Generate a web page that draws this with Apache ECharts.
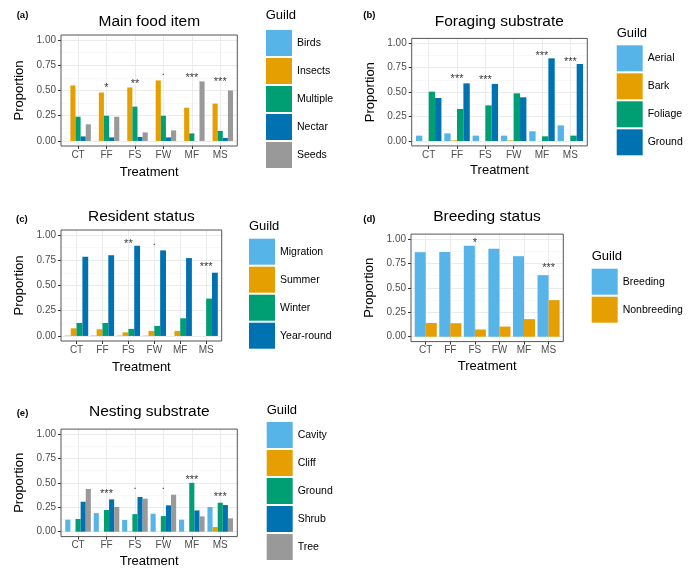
<!DOCTYPE html>
<html><head><meta charset="utf-8">
<script src="https://cdn.jsdelivr.net/npm/echarts@6/dist/echarts.min.js"></script>
<style>html,body{margin:0;padding:0;background:#fff}#c{width:696px;height:569px}</style>
</head><body><div id="c"></div>
<script>
// ---------- data ----------
const treatments = ['CT','FF','FS','FW','MF','MS'];
const yTicks = [0, 0.25, 0.5, 0.75, 1];
const yMinorTicks = [0.125, 0.375, 0.625, 0.875];

// (a) Main food item
const foodGuilds   = ['Birds','Insects','Multiple','Nectar','Seeds'];
const foodBirds    = [0, 0, 0, 0, 0, 0];
const foodInsects  = [0.55, 0.48, 0.53, 0.60, 0.33, 0.37];
const foodMultiple = [0.24, 0.25, 0.34, 0.25, 0.075, 0.10];
const foodNectar   = [0.045, 0.035, 0.04, 0.035, 0, 0.03];
const foodSeeds    = [0.165, 0.24, 0.085, 0.105, 0.59, 0.50];
const foodSig      = ['', '*', '**', '.', '***', '***'];
const foodSigY     = [null, 0.545, 0.584, 0.653, 0.644, 0.604];

// (b) Foraging substrate
const foragGuilds  = ['Aerial','Bark','Foliage','Ground'];
const foragAerial  = [0.055, 0.078, 0.055, 0.055, 0.10, 0.16];
const foragBark    = [0, 0.006, 0, 0.006, 0, 0];
const foragFoliage = [0.505, 0.328, 0.365, 0.488, 0.048, 0.055];
const foragGround  = [0.44, 0.59, 0.584, 0.447, 0.846, 0.788];
const foragSig     = ['', '***', '***', '', '***', '***'];
const foragSigY    = [null, 0.658, 0.652, null, 0.898, 0.829];

// (c) Resident status
const resGuilds    = ['Migration','Summer','Winter','Year-round'];
const resMigration = [0.004, 0.004, 0.004, 0.003, 0, 0];
const resSummer    = [0.076, 0.066, 0.036, 0.05, 0.05, 0];
const resWinter    = [0.129, 0.129, 0.07, 0.10, 0.175, 0.37];
const resYearRound = [0.785, 0.80, 0.894, 0.848, 0.772, 0.627];
const resSig       = ['', '', '**', '.', '', '***'];
const resSigY      = [null, null, 0.934, 0.90, null, 0.703];

// (d) Breeding status
const breedGuilds  = ['Breeding','Nonbreeding'];
const breedYes     = [0.865, 0.868, 0.93, 0.90, 0.824, 0.63];
const breedNo      = [0.14, 0.138, 0.074, 0.104, 0.18, 0.374];
const breedSig     = ['', '', '*', '', '', '***'];
const breedSigY    = [null, null, 0.983, null, null, 0.727];

// (e) Nesting substrate
const nestGuilds   = ['Cavity','Cliff','Ground','Shrub','Tree'];
const nestCavity   = [0.123, 0.19, 0.12, 0.184, 0.123, 0.253];
const nestCliff    = [0, 0, 0.005, 0, 0, 0.048];
const nestGround   = [0.13, 0.222, 0.18, 0.16, 0.50, 0.297];
const nestShrub    = [0.307, 0.331, 0.355, 0.27, 0.218, 0.273];
const nestTree     = [0.437, 0.253, 0.338, 0.379, 0.157, 0.137];
const nestSig      = ['', '***', '.', '.', '***', '***'];
const nestSigY     = [null, 0.409, 0.437, 0.437, 0.557, 0.383];

// ---------- styling / layout ----------
const palette = ['#56B4E9','#E69F00','#009E73','#0072B2','#999999'];
const FONT = 'Liberation Sans, Arial, Helvetica, sans-serif';

const panels = [
  {id:'a', title:'Main food item', guilds:foodGuilds,
   values:[foodBirds, foodInsects, foodMultiple, foodNectar, foodSeeds],
   sig:foodSig, sigY:foodSigY,
   frame:[61,35,176.3,111], titlePos:[149.3,22], tagPos:[16.7,15],
   guildPos:[265.7,15.7], legendPos:[266,30], xNameGap:19.5},
  {id:'b', title:'Foraging substrate', guilds:foragGuilds,
   values:[foragAerial, foragBark, foragFoliage, foragGround],
   sig:foragSig, sigY:foragSigY,
   frame:[411.7,38.4,175.6,107.5], titlePos:[499.3,21.7], tagPos:[363.3,15],
   guildPos:[616.7,33.3], legendPos:[616.7,45.3], xNameGap:18.5},
  {id:'c', title:'Resident status', guilds:resGuilds,
   values:[resMigration, resSummer, resWinter, resYearRound],
   sig:resSig, sigY:resSigY,
   frame:[61,230,160.7,111], titlePos:[141.4,216.7], tagPos:[16,219],
   guildPos:[249,226.7], legendPos:[249,238.7], xNameGap:19.5},
  {id:'d', title:'Breeding status', guilds:breedGuilds,
   values:[breedYes, breedNo],
   sig:breedSig, sigY:breedSigY,
   frame:[411,234.1,152.3,107.5], titlePos:[487,216.7], tagPos:[363.3,219],
   guildPos:[591.7,256.7], legendPos:[591.7,268.7], xNameGap:18},
  {id:'e', title:'Nesting substrate', guilds:nestGuilds,
   values:[nestCavity, nestCliff, nestGround, nestShrub, nestTree],
   sig:nestSig, sigY:nestSigY,
   frame:[61,429.1,176.3,107.5], titlePos:[149.3,411.7], tagPos:[16.7,413.3],
   guildPos:[266.7,410], legendPos:[266.7,422], xNameGap:18}
];

const option = {
  animation:false,
  textStyle:{fontFamily:FONT},
  grid:[], xAxis:[], yAxis:[], series:[], legend:[], graphic:[]
};

function addPanel(p){
  const gi = option.grid.length, xa = option.xAxis.length, ya = option.yAxis.length;
  const [fx, fy, fw, fh] = p.frame;
  const inset = fw * 0.1 / 6.2;
  option.grid.push({left:fx, top:fy, width:fw, height:fh, show:true,
    borderColor:'#555', borderWidth:1, backgroundColor:'rgba(0,0,0,0)', z:3});
  option.grid.push({left:fx+inset, top:fy, width:fw-2*inset, height:fh});
  option.xAxis.push({gridIndex:gi, type:'value', min:0.4, max:6.6, show:false});
  option.xAxis.push({gridIndex:gi+1, type:'category', data:treatments,
    axisLine:{show:false, onZero:false},
    axisTick:{show:true, alignWithLabel:true, length:3, lineStyle:{color:'#333'}},
    axisLabel:{fontSize:10, color:'#4d4d4d', margin:4, fontFamily:FONT},
    splitLine:{show:true, alignWithLabel:true, lineStyle:{color:'#ebebeb', width:1}},
    name:'Treatment', nameLocation:'middle', nameGap:p.xNameGap,
    nameTextStyle:{fontSize:13, color:'#000', fontFamily:FONT}});
  option.yAxis.push({gridIndex:gi, type:'value', min:-0.05, max:1.05,
    axisLine:{show:false},
    axisTick:{show:true, length:3, customValues:yTicks, lineStyle:{color:'#333'}},
    axisLabel:{customValues:yTicks, formatter:v=>Number(v).toFixed(2), fontSize:10, color:'#4d4d4d', margin:5, fontFamily:FONT},
    splitLine:{show:true, lineStyle:{color:'#ebebeb', width:1}},
    name:'Proportion', nameLocation:'middle', nameRotate:90, nameGap:35,
    nameTextStyle:{fontSize:13, color:'#000', fontFamily:FONT}});
  option.yAxis.push({gridIndex:gi, type:'value', min:-0.05, max:1.05, position:'left',
    axisLine:{show:false}, axisTick:{show:false, customValues:yMinorTicks},
    axisLabel:{show:false}, splitLine:{show:true, lineStyle:{color:'#f3f3f3', width:0.6}}});
  option.yAxis.push({gridIndex:gi+1, type:'value', min:-0.05, max:1.05, show:false});

  const names = [];
  p.guilds.forEach((g, k) => {
    const nm = p.id + ':' + g;
    names.push(nm);
    option.series.push({type:'bar', name:nm, xAxisIndex:xa+1, yAxisIndex:ya+2,
      data:p.values[k], itemStyle:{color:palette[k]}, barGap:'0%', barCategoryGap:'10%',
      silent:true, z:2});
  });
  const sigData = [];
  p.sig.forEach((s, i) => {
    if (!s) return;
    sigData.push({value:[i, p.sigY[i]], name:s,
      label:{offset:[0, s === '.' ? -3.3 : 2.4]}});
  });
  option.series.push({type:'scatter', xAxisIndex:xa+1, yAxisIndex:ya+2, data:sigData,
    symbolSize:1, itemStyle:{color:'rgba(0,0,0,0)'}, silent:true, z:5,
    label:{show:true, position:'inside', formatter:prm=>prm.name, fontSize:11, color:'#000', fontFamily:FONT}});
  option.legend.push({orient:'vertical', left:p.legendPos[0], top:p.legendPos[1], padding:0,
    itemWidth:26, itemHeight:26, itemGap:2, icon:'rect', selectedMode:false,
    data:names, formatter:n=>n.split(':')[1],
    textStyle:{fontSize:10.5, color:'#000', fontFamily:FONT}});
  option.graphic.push({type:'text', x:p.titlePos[0], y:p.titlePos[1],
    style:{text:p.title, fontSize:15.5, fontFamily:FONT, fill:'#000', align:'center', verticalAlign:'middle'}});
  option.graphic.push({type:'text', x:p.tagPos[0], y:p.tagPos[1],
    style:{text:'(' + p.id + ')', fontSize:9.5, fontWeight:'bold', fontFamily:FONT, fill:'#000', align:'left', verticalAlign:'middle'}});
  option.graphic.push({type:'text', x:p.guildPos[0], y:p.guildPos[1],
    style:{text:'Guild', fontSize:13, fontFamily:FONT, fill:'#000', align:'left', verticalAlign:'middle'}});
}
panels.forEach(addPanel);

const chart = echarts.init(document.getElementById('c'), null, {renderer:'canvas'});
chart.setOption(option);
</script>
</body></html>
